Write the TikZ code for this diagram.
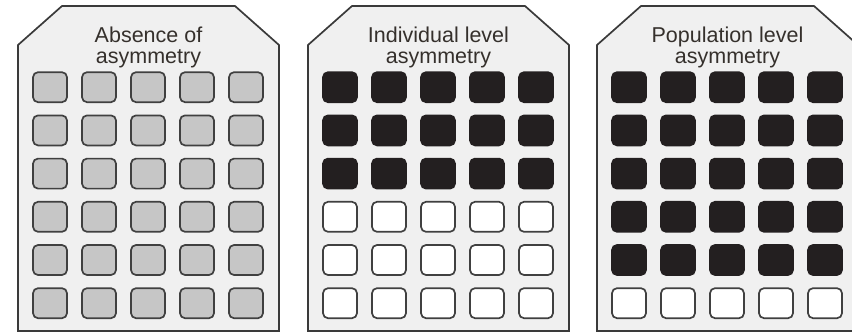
\documentclass[tikz,border=0pt]{standalone}
\usepackage{fontspec}
\setmainfont{Liberation Sans}
\definecolor{panelFill}{HTML}{F0F0F0}
\definecolor{panelLine}{HTML}{3A3A3A}
\definecolor{cellGray}{HTML}{C6C6C6}
\definecolor{cellLine}{HTML}{404040}
\definecolor{cellBlack}{HTML}{231F20}
\definecolor{titleText}{HTML}{35302C}

\begin{document}
\begin{tikzpicture}[
  x=1pt, y=-1pt,
  panel/.style={draw=panelLine, fill=panelFill, line width=1.7pt},
  cell/.style={rounded corners=5pt, minimum width=34pt, minimum height=30pt, inner sep=0pt, line width=1.7pt},
  graycell/.style={cell, fill=cellGray, draw=cellLine},
  blackcell/.style={cell, fill=cellBlack, draw=cellBlack},
  whitecell/.style={cell, fill=white, draw=cellLine},
  title/.style={font=\fontsize{21.5}{21}\selectfont, text=titleText, align=center},
]
\useasboundingbox (0,0) rectangle (852,332);
\clip (0,0) rectangle (852,332);

% three panels, rows of cells from the top
\foreach \p/\px/\nblack/\kind in {1/18/0/graycell, 2/308/3/whitecell, 3/597/5/whitecell} {
  \draw[panel] (\px,45) -- (\px+44,6) -- (\px+217,6) -- (\px+261,45) -- (\px+261,331) -- (\px,331) -- cycle;
  \foreach \r in {1,...,6} {
    \foreach \c in {1,...,5} {
      \ifnum\r>\nblack \def\sty{\kind}\else\def\sty{blackcell}\fi
      \node[\sty] (cell\p-\r-\c) at (\px+32+49*\c-49, 44+43.2*\r) {};
    }
  }
}

\node[title] (title1) at (148.5,47.5) {Absence of\\asymmetry};
\node[title] (title2) at (438.5,47.5) {Individual level\\asymmetry};
\node[title] (title3) at (727.5,47.5) {Population level\\asymmetry};
\end{tikzpicture}
\end{document}
